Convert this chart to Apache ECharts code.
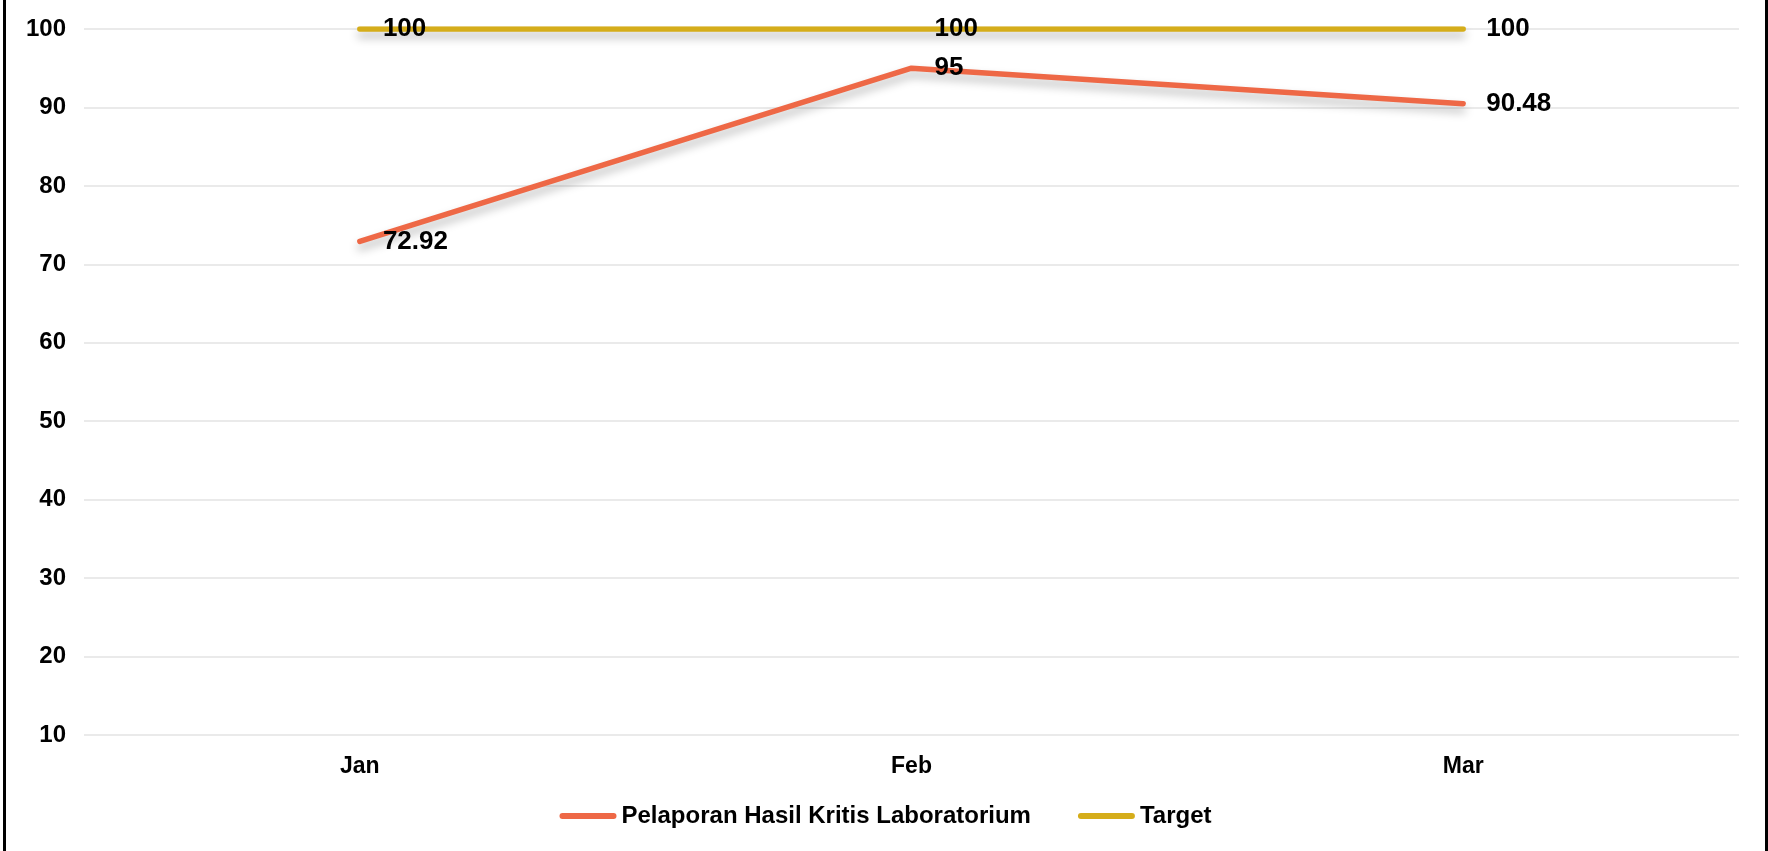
<!DOCTYPE html>
<html>
<head>
<meta charset="utf-8">
<title>Pelaporan Hasil Kritis Laboratorium</title>
<script src="https://cdn.jsdelivr.net/npm/echarts@6/dist/echarts.min.js"></script>
<style>
  html, body { margin: 0; padding: 0; background: #ffffff; }
  #wrap { position: relative; height: 851px; box-sizing: border-box;
          border-left: 3px solid #000; border-right: 3px solid #000; margin-left: 3px; width: 1765px; }
  #chart { width: 100%; height: 100%; }
</style>
</head>
<body>
<div id="wrap"><div id="chart"></div></div>
<script>
// Monthly figures
const months = ['Jan', 'Feb', 'Mar'];
const hasilKritis = [72.92, 95, 90.48];
const target = [100, 100, 100];
const yTicks = { min: 10, max: 100, interval: 10 };

const ORANGE = '#EE6846';
const GOLD = '#D5AD1A';
const legendIcon = 'path://M3,0 H54 A3,3 0 0 1 54,6 H3 A3,3 0 0 1 3,0 Z';

function lineSeries(name, data, color) {
  return {
    name: name,
    type: 'line',
    data: data,
    symbol: 'circle',
    symbolSize: 0.1,
    color: color,
    lineStyle: {
      width: 5.5,
      color: color,
      cap: 'round',
      join: 'round',
      shadowColor: 'rgba(0,0,0,0.28)',
      shadowBlur: 10,
      shadowOffsetY: 6
    },
    label: {
      show: true,
      position: 'right',
      distance: 23,
      color: '#000',
      fontFamily: 'Liberation Sans, Arial, sans-serif',
      fontWeight: 'bold',
      fontSize: 26
    },
    emphasis: { disabled: true },
    animation: false
  };
}

const chart = echarts.init(document.getElementById('chart'), null, { renderer: 'canvas' });
chart.setOption({
  backgroundColor: '#ffffff',
  textStyle: { fontFamily: 'Liberation Sans, Arial, sans-serif' },
  grid: { left: 78, right: 26, top: 29, bottom: 116, containLabel: false },
  legend: {
    bottom: 18,
    left: 'center',
    itemWidth: 57,
    itemHeight: 6,
    itemGap: 47,
    icon: legendIcon,
    textStyle: { color: '#000', fontWeight: 'bold', fontSize: 24, fontFamily: 'Liberation Sans, Arial, sans-serif' },
    data: [
      { name: 'Pelaporan Hasil Kritis Laboratorium', icon: legendIcon },
      { name: 'Target', icon: legendIcon }
    ]
  },
  xAxis: {
    type: 'category',
    data: months,
    boundaryGap: true,
    axisLine: { show: false },
    axisTick: { show: false },
    axisLabel: { color: '#000', fontWeight: 'bold', fontSize: 23, margin: 20 }
  },
  yAxis: {
    type: 'value',
    min: yTicks.min,
    max: yTicks.max,
    interval: yTicks.interval,
    axisLine: { show: false },
    axisTick: { show: false },
    axisLabel: { color: '#000', fontWeight: 'bold', fontSize: 24, margin: 18 },
    splitLine: { lineStyle: { color: '#e3e3e3', width: 1.5 } }
  },
  series: [
    lineSeries('Pelaporan Hasil Kritis Laboratorium', hasilKritis, ORANGE),
    lineSeries('Target', target, GOLD)
  ]
});
</script>
</body>
</html>
